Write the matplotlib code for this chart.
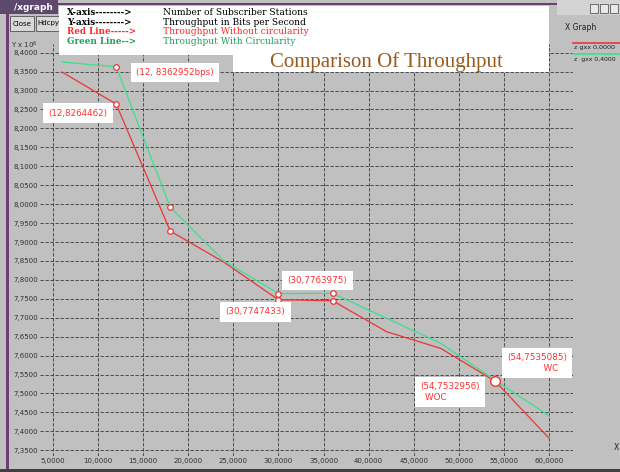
import matplotlib.pyplot as plt
from matplotlib.patches import Rectangle
from matplotlib.ticker import FuncFormatter, MultipleLocator
from matplotlib.lines import Line2D

# data (throughput in units of 10^6 bps)
stations = [6, 12, 18, 24, 30, 36, 42, 48, 54, 60]
thr_with = [8.3754, 8.362952, 7.9917, 7.849, 7.763975, 7.7645, 7.6985, 7.6324, 7.535085, 7.441]
thr_without = [8.349, 8.264462, 7.929, 7.846, 7.747433, 7.745, 7.663, 7.619, 7.532956, 7.382]
marked = [12, 18, 30, 36]

# annotations: (x, y, text, offset in pixels)
notes = [
    (12, 8.362952, "(12, 8362952bps)", (59, -6)),
    (12, 8.264462, "(12,8264462)", (-38, -9)),
    (30, 7.763975, "(30,7763975)", (39, 13)),
    (30, 7.747433, "(30,7747433)", (-23, -12)),
    (54, 7.535085, "(54,7535085)\n          WC", (42, 17)),
    (54, 7.532956, "(54,7532956)\nWOC          ", (-45, -11)),
]

legend_rows = [
    ("X-axis-------->", "Number of Subscriber Stations", "black"),
    ("Y-axis-------->", "Throughput in Bits per Second", "black"),
    ("Red Line----->", "Throughput Without circularity", "#ff2a2a"),
    ("Green Line-->", "Throughput With Circularity", "#1fa060"),
]

W, H = 620, 472
BG = '#c0c0c0'
RED = '#ee3535'
GREEN = '#3ce08c'


def fx(x):
    return x / W


def fy(y):
    return 1 - y / H


fig = plt.figure(figsize=(6.2, 4.72), dpi=100)
fig.patch.set_facecolor(BG)

# plot area in pixels: left 40, right 573, top 44, bottom 456
ax = fig.add_axes([fx(40), fy(456), (573 - 40) / W, (456 - 44) / H])
ax.set_facecolor('none')
for s in ax.spines.values():
    s.set_visible(False)

ax.set_xlim(3.558, 62.661)
ax.set_ylim(7.3348, 8.423)
ax.xaxis.set_major_locator(MultipleLocator(5))
ax.yaxis.set_major_locator(MultipleLocator(0.05))
comma = FuncFormatter(lambda v, p: ("%.4f" % v).replace('.', ','))
ax.xaxis.set_major_formatter(comma)
ax.yaxis.set_major_formatter(comma)
ax.tick_params(length=0, labelsize=5, colors='#303030', pad=1.5)
ax.grid(True, color='#383838', linestyle=(0, (4, 2)), linewidth=0.6)
ax.set_axisbelow(True)

ax.plot(stations, thr_without, color=RED, lw=0.9)
ax.plot(stations, thr_with, color=GREEN, lw=0.9)

mx = [s for s in stations if s in marked]
for series in (thr_with, thr_without):
    ax.plot(mx, [series[stations.index(s)] for s in mx], 'o', ms=4,
            mfc='white', mec=RED, mew=0.9)
ax.plot([54], [thr_without[stations.index(54)]], 'o', ms=7,
        mfc='white', mec=RED, mew=1)

for x, y, txt, off in notes:
    ax.annotate(txt, (x, y), xytext=off, textcoords='offset pixels',
                ha='center', va='center', fontsize=6.3, color='#ff3030',
                bbox=dict(boxstyle='square,pad=0.6', fc='white', ec='none'))

# window decorations
fig.patches.append(Rectangle((fx(0), fy(14)), fx(58), 14 / H, transform=fig.transFigure,
                             fc='#5b4a6e', ec='none'))
fig.text(fx(14), fy(8), "/xgraph", color='white', fontsize=6.5, fontweight='bold',
         va='center')
fig.patches.append(Rectangle((fx(6), 0), fx(3), fy(14), transform=fig.transFigure,
                             fc='#6b3f72', ec='none'))
fig.patches.append(Rectangle((0, 0), 1, 3.5 / H, transform=fig.transFigure,
                             fc='#404040', ec='none'))
fig.patches.append(Rectangle((fx(9), fy(5)), fx(560), 1.5 / H, transform=fig.transFigure,
                             fc='#6b3f72', ec='none'))
for bx, bw, lab in [(10, 24, "Close"), (36, 24, "Hdcpy")]:
    fig.patches.append(Rectangle((fx(bx), fy(31)), fx(bw), 15 / H,
                                 transform=fig.transFigure, fc='#d8d8d8',
                                 ec='#505050', lw=0.6))
    fig.text(fx(bx + bw / 2), fy(23.5), lab, fontsize=5, ha='center', va='center')
fig.text(fx(11), fy(45), "Y x 10$^6$", fontsize=5, color='#303030', va='center')

# top right title bar and the xgraph legend
fig.patches.append(Rectangle((fx(557), fy(15)), fx(63), 15 / H, transform=fig.transFigure,
                             fc='#d4d4d4', ec='none'))
for i in range(3):
    fig.patches.append(Rectangle((fx(590 + i * 10), fy(13)), fx(8), 9 / H,
                                 transform=fig.transFigure, fc='#e8e8e8',
                                 ec='#404040', lw=0.5))
fig.text(fx(565), fy(28), "X Graph", fontsize=5.5, color='#202020', va='center')
fig.lines.append(Line2D([fx(573), 1], [fy(42.5), fy(42.5)], transform=fig.transFigure,
                        color=RED, lw=1.2))
fig.text(fx(574), fy(48), "z gxx 0,0000", fontsize=4.6, color='#202020', va='center')
fig.lines.append(Line2D([fx(573), 1], [fy(54), fy(54)], transform=fig.transFigure,
                        color=GREEN, lw=1.2))
fig.text(fx(574), fy(59), "z  gxx 0,4000", fontsize=4.4, color='#202020', va='center')
fig.text(fx(614), fy(447), "X", fontsize=5.5, color='#202020', va='center')

# white description boxes
fig.patches.append(Rectangle((fx(59), fy(55)), fx(490), 49 / H, transform=fig.transFigure,
                             fc='white', ec='none', zorder=2))
fig.patches.append(Rectangle((fx(233), fy(72)), fx(316), 20 / H, transform=fig.transFigure,
                             fc='white', ec='none', zorder=2))
for i, (left, right, col) in enumerate(legend_rows):
    yy = fy(12.5 + i * 9.7)
    fig.text(fx(67), yy, left, color=col, fontsize=6.3, fontweight='bold',
             family='DejaVu Serif', va='center', zorder=3)
    fig.text(fx(163), yy, right, color=col, fontsize=6.6, family='DejaVu Serif',
             va='center', zorder=3)
fig.text(fx(386), fy(62.5), "Comparison Of Throughput", color='#9a5a1c', fontsize=15,
         family='Liberation Serif', ha='center', va='center', zorder=3)

fig.savefig('out.png', dpi=100, facecolor=fig.get_facecolor())
